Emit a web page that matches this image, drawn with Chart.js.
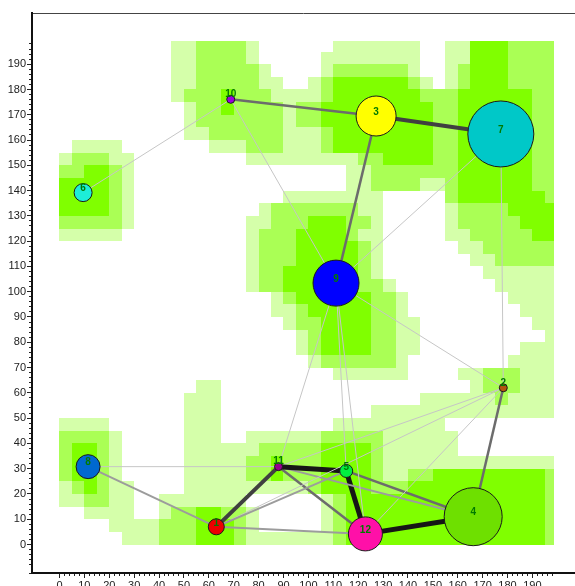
<!DOCTYPE html>
<html>
<head>
<meta charset="utf-8">
<script src="https://cdn.jsdelivr.net/npm/chart.js@4.4.0/dist/chart.umd.min.js"></script>
<style>
  html, body { margin: 0; padding: 0; background: #fff; overflow: hidden; }
  canvas { display: block; }
</style>
</head>
<body>
<canvas id="chart" width="575" height="586"></canvas>
<script>
// nodes
const nodeIds   = [1, 2, 3, 4, 5, 6, 7, 8, 9, 10, 11, 12];
const nodeX     = [63.0, 178.3, 127.2, 166.2, 115.2, 9.5, 177.3, 11.5, 111.1, 68.8, 88.0, 122.9];
const nodeY     = [7.0, 62.0, 169.5, 11.0, 29.1, 139.2, 162.4, 30.8, 103.4, 176.1, 30.8, 4.2];
const nodeSize  = [8, 4, 20, 29, 6.5, 9, 33, 12, 23, 4, 4, 17];

// links between nodes, weight 1 (thin, light) .. 5 (thick, dark)
const edgeFrom   = [10, 3, 10, 10, 3, 7, 7, 9, 9, 9, 9, 8, 8, 1, 1, 1, 1, 11, 11, 11, 11, 12, 5, 5, 12, 4];
const edgeTo     = [3, 7, 6, 9, 9, 9, 2, 11, 5, 12, 2, 11, 1, 11, 5, 12, 2, 5, 12, 4, 2, 2, 12, 4, 4, 2];
const edgeWeight = [3, 4, 1, 1, 3, 1, 1, 1, 1, 1, 1, 1, 2, 4, 2, 2, 1, 5, 3, 2, 1, 1, 5, 3, 5, 3];

const axisLabels = [0, 10, 20, 30, 40, 50, 60, 70, 80, 90, 100, 110, 120, 130, 140, 150, 160, 170, 180, 190];

// density levels, 5x5 cells, top row = y 195..200, left column = x 0..5
const densityRows = [
  '0000000001122221000000111111100113332222',
  '0000000001122221000001111111100113332222',
  '0000000001122222100001222222100123332222',
  '0000000001122222110012333333210123332222',
  '0000000001222322211112333333322233333322',
  '0000000000122322221223333333332233333322',
  '0000000000122222221223333333332233333322',
  '0000000000112222221112333333332233333322',
  '0111100000001112221112333333332233333322',
  '1222110000000001111111112233332233333322',
  '2233210000000000000000011222222233333322',
  '3333210000000000000000011222211233333322',
  '3333210000000000001111111100000233333332',
  '3333210000000000122222221100000122223333',
  '2222210000000001122233322100000122222333',
  '1111100000000001222333321100000112222233',
  '0000000000000001222333332100000011222222',
  '0000000000000001222333332100000001122222',
  '0000000000000001223333332100000000111111',
  '0000000000000001223333332210000000011111',
  '0000000000000000012333333221000000001111',
  '0000000000000000011233333221000000000111',
  '0000000000000000001223333221100000000011',
  '0000000000000000000123333221100000000001',
  '0000000000000000000123333221100000000111',
  '0000000000000000000012222221000000001111',
  '0000000000000000000000111111000011222111',
  '0000000000011000000000000000000001222111',
  '0000000000111000000000000000011111121111',
  '0000000000111000000000000111111111111111',
  '1111000000111000000000111111111000000000',
  '2222100000111001111112222211111100000000',
  '2332100000111111222223333211111100000000',
  '2332100000111112232223333211111111111111',
  '2332100000111112232223333211223333333332',
  '1232110000111111111123333222333333333332',
  '1122110011111110000001233333333333333332',
  '0011110012233221000001233333333333333332',
  '0000111122233321000001233333333333333332',
  '0000011122233321111111233333333333333332'
];

const nodeColors = ['#ee0000', '#b3560e', '#ffff00', '#6ee000', '#00f040', '#1deed8',
                    '#00c8c8', '#0068d0', '#0000ff', '#9a00dd', '#99008f', '#ff10a8'];
const weightColor = ['', '#c6c6c6', '#9c9c9c', '#6c6c6c', '#404040', '#161616'];
const weightWidth = [0, 1, 2, 2.5, 4, 5];
const levelColor = ['', '#d5ffaa', '#aaff55', '#80ff00'];

const cell = 5, fieldMaxX = 198.7, fieldMaxY = 199.2;

const densityPlugin = {
  id: 'density',
  beforeDatasetsDraw(chart) {
    const { ctx, chartArea, scales: { x, y } } = chart;
    ctx.save();
    ctx.beginPath();
    ctx.rect(chartArea.left, chartArea.top, chartArea.width, chartArea.height);
    ctx.clip();
    densityRows.forEach((row, k) => {
      const top = Math.min(200 - cell * k, fieldMaxY);
      const bottom = 200 - cell * (k + 1);
      const py0 = Math.round(y.getPixelForValue(top));
      const py1 = Math.round(y.getPixelForValue(bottom));
      for (let c = 0; c < row.length; c++) {
        const lvl = +row[c];
        if (!lvl) continue;
        const px0 = Math.round(x.getPixelForValue(cell * c));
        const px1 = Math.round(x.getPixelForValue(Math.min(cell * (c + 1), fieldMaxX)));
        ctx.fillStyle = levelColor[lvl];
        ctx.fillRect(px0, py0, px1 - px0, py1 - py0);
      }
    });
    ctx.restore();
  }
};

const labelPlugin = {
  id: 'nodeLabels',
  afterDatasetsDraw(chart) {
    const ctx = chart.ctx;
    const meta = chart.getDatasetMeta(0);
    ctx.save();
    ctx.font = 'bold 10px "Liberation Sans", Arial, sans-serif';
    ctx.fillStyle = '#007a00';
    ctx.textAlign = 'center';
    ctx.textBaseline = 'middle';
    meta.data.forEach((el, i) => {
      const lift = nodeSize[i] < 6 ? 5 : 4;
      ctx.fillText(String(nodeIds[i]), el.x, el.y - lift);
    });
    ctx.restore();
  }
};

const at = id => nodeIds.indexOf(id);

const edgeSets = edgeFrom.map((f, i) => {
  const a = at(f), b = at(edgeTo[i]);
  return {
    type: 'line',
    data: [{ x: nodeX[a], y: nodeY[a] }, { x: nodeX[b], y: nodeY[b] }],
    borderColor: weightColor[edgeWeight[i]],
    borderWidth: weightWidth[edgeWeight[i]],
    pointRadius: 0,
    fill: false,
    order: 1
  };
});

const nodeSet = {
  type: 'bubble',
  data: nodeX.map((x, i) => ({ x: x, y: nodeY[i], r: nodeSize[i] })),
  backgroundColor: nodeColors,
  borderColor: '#1a1a1a',
  borderWidth: 1,
  order: 0
};

const tickFont = { family: '"Liberation Sans", Arial, sans-serif', size: 11 };
const isMajor = v => Math.abs(v % 10) < 1e-6;
const labelFor = v => axisLabels.includes(v) ? String(v) : '';

new Chart(document.getElementById('chart'), {
  type: 'scatter',
  data: { datasets: [nodeSet].concat(edgeSets) },
  options: {
    responsive: false,
    animation: false,
    devicePixelRatio: 1,
    events: [],
    layout: { padding: 0, autoPadding: false },
    plugins: { legend: { display: false }, tooltip: { enabled: false } },
    scales: {
      x: {
        type: 'linear', position: 'bottom', min: -11.03, max: 206.7,
        afterFit(scale) { scale.height = 13; },
        border: { color: '#111', width: 2 },
        grid: {
          drawOnChartArea: false, tickLength: 5, tickWidth: 1,
          tickColor: c => (c.tick && c.tick.value >= 0 && c.tick.value <= 199) ? '#222' : 'rgba(0,0,0,0)',
          tickBorderDash: c => (c.tick && isMajor(c.tick.value)) ? [] : [2, 20]
        },
        ticks: { stepSize: 2, autoSkip: false, maxRotation: 0, padding: 1, color: '#222', font: tickFont, callback: labelFor }
      },
      x2: {
        type: 'linear', position: 'top', min: -11.03, max: 206.7,
        afterFit(scale) { scale.height = 13; },
        border: { color: '#444', width: 1 },
        grid: { drawOnChartArea: false, drawTicks: false },
        ticks: { display: false }
      },
      y: {
        type: 'linear', position: 'left', min: -11.27, max: 210.25,
        afterFit(scale) { scale.width = 32; },
        border: { color: '#111', width: 2 },
        grid: {
          drawOnChartArea: false, tickLength: 5, tickWidth: 1,
          tickColor: c => (c.tick && c.tick.value >= -12 && c.tick.value <= 199) ? '#222' : 'rgba(0,0,0,0)',
          tickBorderDash: c => (c.tick && isMajor(c.tick.value)) ? [] : [0, 2, 2, 20]
        },
        ticks: { stepSize: 2, autoSkip: false, padding: 1, color: '#222', font: tickFont, callback: labelFor }
      }
    }
  },
  plugins: [densityPlugin, labelPlugin]
});
</script>
</body>
</html>
